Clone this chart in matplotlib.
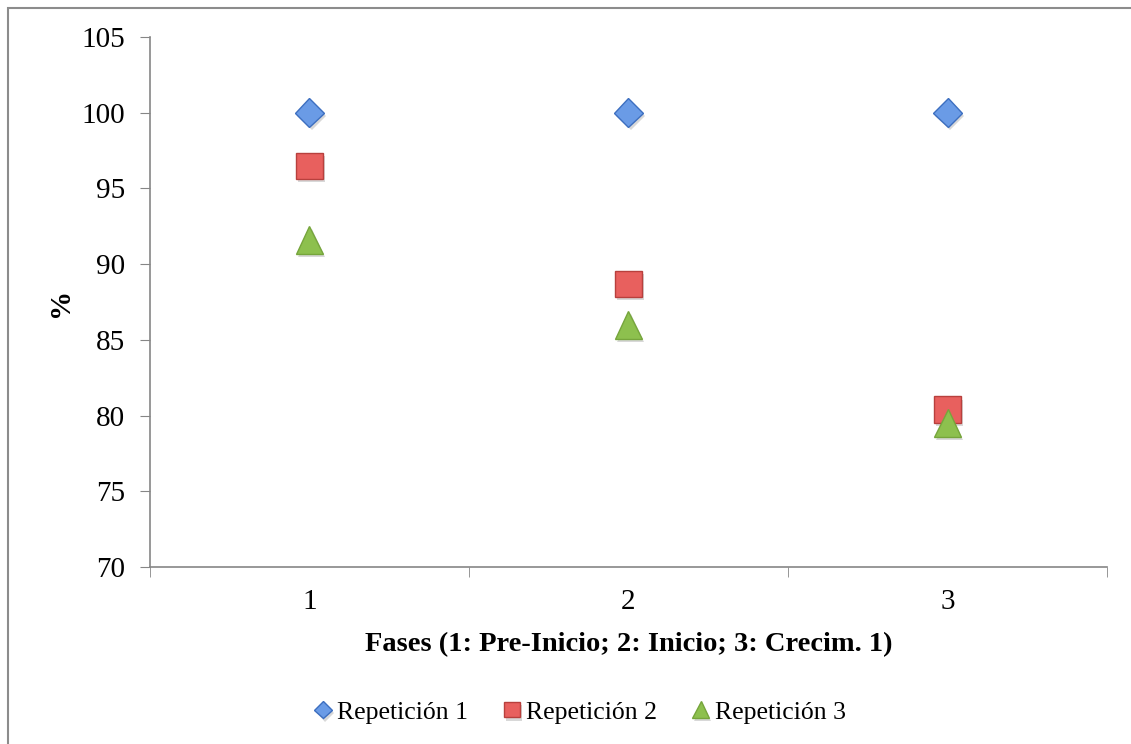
import matplotlib.pyplot as plt
import matplotlib.patheffects as pe
from matplotlib.patches import Rectangle

# data
fases = [1, 2, 3]
rep1 = [100.0, 100.0, 100.0]
rep2 = [96.5, 88.7, 80.4]
rep3 = [91.6, 86.0, 79.5]

plt.rcParams['font.family'] = ['Liberation Serif', 'DejaVu Serif']

fig = plt.figure(figsize=(11.31, 7.44), dpi=100)
ax = fig.add_axes([0.1326, 0.2379, 0.8462, 0.7124])

shadow = [pe.SimplePatchShadow(offset=(1.5, -2.5), shadow_rgbFace='0.5', alpha=0.3), pe.Normal()]

ax.plot(fases, rep1, linestyle='none', marker='D', markersize=14.5,
        markerfacecolor='#6a9be6', markeredgecolor='#3d6fc0', markeredgewidth=1,
        label='Repetición 1', path_effects=shadow)
ax.plot(fases, rep2, linestyle='none', marker='s', markersize=19,
        markerfacecolor='#e8605e', markeredgecolor='#b8403d', markeredgewidth=1,
        label='Repetición 2', path_effects=shadow)
ax.plot(fases, rep3, linestyle='none', marker='^', markersize=20,
        markerfacecolor='#8dc04e', markeredgecolor='#76a53c', markeredgewidth=1,
        label='Repetición 3', path_effects=shadow)

ax.set_xlim(0.5, 3.5)
ax.set_ylim(70, 105)
ax.set_yticks(range(70, 106, 5))
ax.set_xticks([1, 2, 3])
ax.set_xticks([0.5, 1.5, 2.5, 3.5], minor=True)
ax.tick_params(axis='x', which='major', length=0, labelsize=21, pad=16)
ax.tick_params(axis='x', which='minor', length=7, color='#868686', direction='out')
ax.tick_params(axis='y', length=7, color='#868686', labelsize=21, pad=11)

for s in ['top', 'right']:
    ax.spines[s].set_visible(False)
for s in ['left', 'bottom']:
    ax.spines[s].set_color('#868686')
    ax.spines[s].set_linewidth(1.2)

ax.set_xlabel('Fases (1: Pre-Inicio; 2: Inicio; 3: Crecim. 1)', fontsize=20.5,
              fontweight='bold', labelpad=12)
ax.set_ylabel('%', fontsize=21, fontweight='bold', labelpad=5)

leg = fig.legend(loc='center', bbox_to_anchor=(0.511, 0.043), ncol=3, frameon=False,
                 fontsize=18.5, handletextpad=0.05, columnspacing=1.2,
                 handlelength=1.0, markerscale=0.6)

# outer chart border
fig.patches.append(Rectangle((8 / 1131, -0.01), 1.02, 1 - 8 / 744 + 0.01,
                             transform=fig.transFigure, fill=False,
                             edgecolor='#8c8c8c', linewidth=1.5))

fig.savefig('out.png', dpi=100)
